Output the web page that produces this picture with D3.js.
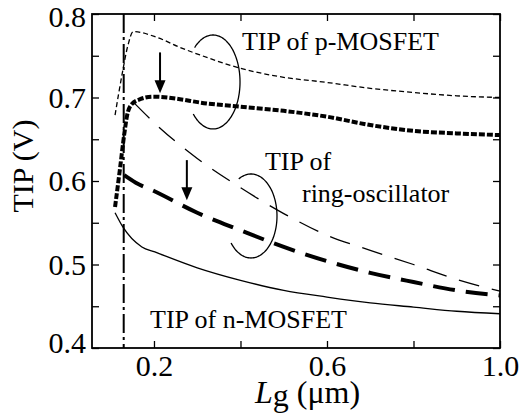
<!DOCTYPE html>
<html>
<head>
<meta charset="utf-8">
<script src="https://cdn.jsdelivr.net/npm/d3@7"></script>
<style>
  body { margin: 0; background: #fff; }
  svg text { font-family: "Liberation Serif", "Times New Roman", "DejaVu Serif", serif; fill: #000; }
</style>
</head>
<body>
<script>
// values: [Lg (um), TIP (V)]
const pMosBefore = [[0.110,0.679],[0.126,0.727],[0.140,0.763],[0.152,0.779],[0.207,0.772],[0.260,0.760],
  [0.306,0.751],[0.400,0.735],[0.490,0.725],[0.600,0.718],[0.700,0.711],[0.800,0.706],[0.900,0.702],[1.000,0.700]];
const pMosAfter = [[0.110,0.569],[0.121,0.613],[0.131,0.655],[0.138,0.679],[0.147,0.691],[0.168,0.698],
  [0.198,0.701],[0.260,0.698],[0.306,0.694],[0.400,0.689],[0.500,0.684],[0.600,0.677],[0.700,0.667],
  [0.800,0.660],[0.900,0.657],[1.000,0.655]];
const ringBefore = [[0.155,0.693],[0.200,0.670],[0.300,0.627],[0.400,0.592],[0.500,0.561],[0.600,0.535],
  [0.700,0.517],[0.800,0.500],[0.900,0.482],[1.000,0.468]];
const ringAfter = [[0.131,0.607],[0.158,0.598],[0.200,0.588],[0.300,0.562],[0.400,0.541],[0.500,0.521],
  [0.600,0.504],[0.700,0.490],[0.800,0.479],[0.900,0.469],[1.000,0.463]];
const nMos = [[0.110,0.562],[0.128,0.545],[0.172,0.521],[0.202,0.515],[0.300,0.496],[0.400,0.481],
  [0.500,0.469],[0.600,0.461],[0.700,0.454],[0.800,0.449],[0.900,0.444],[1.000,0.441]];

const lgLimit = 0.13;
const xTicks = [0.2, 0.4, 0.6, 0.8, 1.0];
const yTicks = [0.4, 0.45, 0.5, 0.55, 0.6, 0.65, 0.7, 0.75, 0.8];

// arrows: [Lg, TIP start, TIP tip]
const arrows = [[0.214, 0.754, 0.705], [0.276, 0.625, 0.577]];
// ellipse groups: [Lg centre, TIP centre]
const groups = [[0.3365, 0.7186], [0.4243, 0.5581]];
const labels = [
  ["TIP of p-MOSFET", 0.4035, 0.7569],
  ["TIP of", 0.4566, 0.6132],
  ["ring-oscillator", 0.5422, 0.5749],
  ["TIP of n-MOSFET", 0.1908, 0.4240]
];

const serif = '"Liberation Serif", "Times New Roman", "DejaVu Serif", serif';
const width = 521, height = 420;
const svg = d3.select("body").append("svg").attr("width", width).attr("height", height)
  .style("font-family", serif);

const x = d3.scaleLinear().domain([0.0567, 1.0]).range([92, 500]);
const y = d3.scaleLinear().domain([0.4, 0.8]).range([348, 14]);

const fmt = d3.format(".1f");

svg.append("g").attr("transform", "translate(0,348)")
  .call(d3.axisBottom(x).tickValues(xTicks).tickSize(-7).tickSizeOuter(0).tickPadding(7)
    .tickFormat((d, i) => i % 2 === 0 ? fmt(d) : ""));
svg.append("g").attr("transform", "translate(0,14)")
  .call(d3.axisTop(x).tickValues(xTicks).tickSize(-7).tickSizeOuter(0).tickFormat(""));
const gy = svg.append("g").attr("transform", "translate(92,0)")
  .call(d3.axisLeft(y).tickValues(yTicks).tickSize(-7).tickSizeOuter(0).tickPadding(6)
    .tickFormat((d, i) => i % 2 === 0 ? fmt(d) : ""));
svg.append("g").attr("transform", "translate(500,0)")
  .call(d3.axisRight(y).tickValues(yTicks).tickSize(-7).tickSizeOuter(0).tickFormat(""));

svg.selectAll("g").attr("font-family", null);
svg.selectAll(".domain").remove();
svg.selectAll(".tick line").attr("stroke-width", 1.3);
svg.selectAll(".tick text").style("font-family", serif).style("font-size", "30px");
gy.selectAll(".tick text").attr("dy", d => d === 0.4 ? "0.15em" : d === 0.8 ? "0.42em" : "0.32em");

svg.append("rect").attr("x", 92).attr("y", 14).attr("width", 408).attr("height", 334)
  .attr("fill", "none").attr("stroke", "#000").attr("stroke-width", 1.8);

// Lg limit
svg.append("line").attr("x1", x(lgLimit)).attr("x2", x(lgLimit)).attr("y1", y(0.8)).attr("y2", y(0.4))
  .attr("stroke", "#000").attr("stroke-width", 2).attr("stroke-dasharray", "19,4,3,4");

const line = d3.line().x(d => x(d[0])).y(d => y(d[1])).curve(d3.curveMonotoneX);
const series = [
  [pMosBefore, 1.3, "5,3"],
  [pMosAfter, 4, "6,2"],
  [ringBefore, 1.3, "21,13"],
  [ringAfter, 4, "22,11"],
  [nMos, 1.3, null]
];
series.forEach(([data, w, dash]) => {
  svg.append("path").datum(data).attr("d", line)
    .attr("fill", "none").attr("stroke", "#000").attr("stroke-width", w)
    .attr("stroke-dasharray", dash);
});

// arrows
arrows.forEach(([lg, v0, v1]) => {
  const ax = x(lg), y0 = y(v0), y1 = y(v1);
  svg.append("line").attr("x1", ax).attr("x2", ax).attr("y1", y0).attr("y2", y1 - 10)
    .attr("stroke", "#000").attr("stroke-width", 2);
  svg.append("path").attr("d", `M${ax - 5.5},${y1 - 13}L${ax + 5.5},${y1 - 13}L${ax},${y1}Z`).attr("fill", "#000");
});

// open ellipses round each pair of curves
const ellipseSpecs = [[27, 47, -133, 137], [26, 42, -118, 140]];
groups.forEach(([lg, v], i) => {
  const [rx, ry, a0, a1] = ellipseSpecs[i];
  const cx = x(lg), cy = y(v);
  const pts = d3.range(a0, a1 + 1, 2).map(a => {
    const t = a * Math.PI / 180;
    return [cx + rx * Math.cos(t), cy + ry * Math.sin(t)];
  });
  svg.append("path").attr("d", d3.line().curve(d3.curveBasis)(pts))
    .attr("fill", "none").attr("stroke", "#000").attr("stroke-width", 1.3);
});

labels.forEach(([t, lg, v]) => {
  svg.append("text").attr("x", x(lg)).attr("y", y(v))
    .style("font-family", serif).style("font-size", "26px").text(t);
});

// axis titles
svg.append("text").attr("transform", "translate(33,166) rotate(-90)")
  .attr("text-anchor", "middle").style("font-family", serif).style("font-size", "30px").text("TIP (V)");
const xt = svg.append("text").attr("x", 255).attr("y", 403)
  .style("font-family", serif).style("font-size", "32px");
xt.append("tspan").style("font-style", "italic").text("L");
xt.append("tspan").attr("dy", 3).text("g");
xt.append("tspan").attr("dy", -3).text(" (\u03bcm)");
</script>
</body>
</html>
